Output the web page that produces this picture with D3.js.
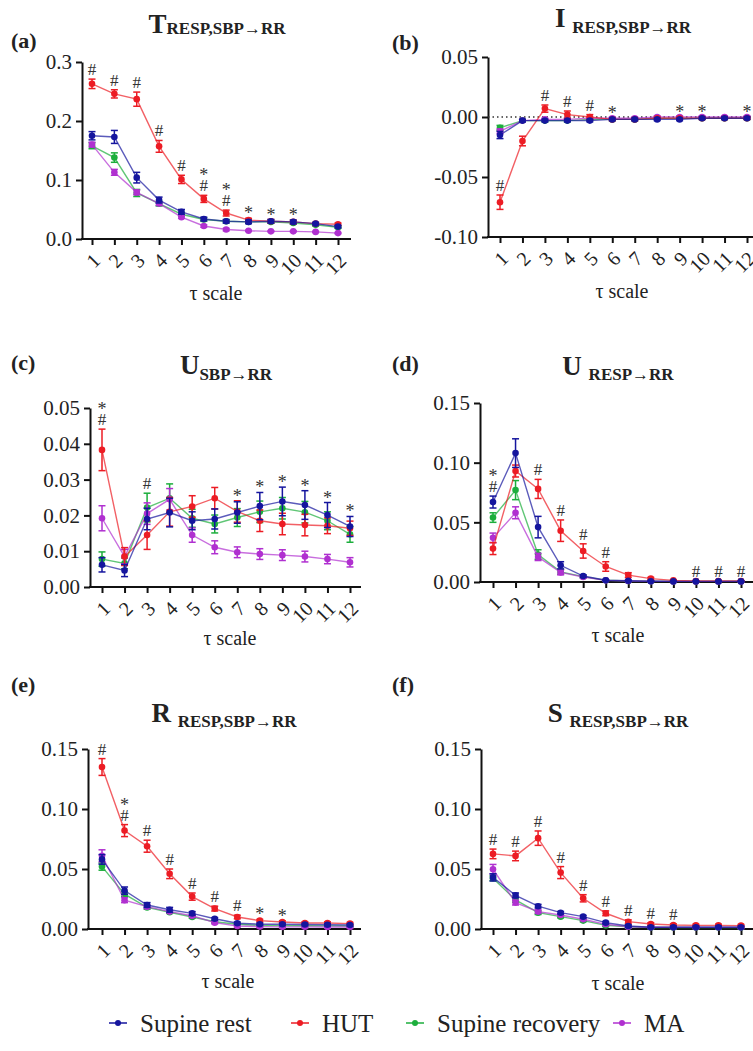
<!DOCTYPE html>
<html>
<head>
<meta charset="utf-8">
<script src="https://cdn.jsdelivr.net/npm/d3@7"></script>
<style>
  body { margin: 0; background: #fff; }
</style>
</head>
<body>
<div class="canvas"></div>
<script>
// tau scales and groups
const taus = [1, 2, 3, 4, 5, 6, 7, 8, 9, 10, 11, 12];
const groups = ["Supine rest", "HUT", "Supine recovery", "MA"];
const colors = ["#15159e", "#ec1c24", "#1cae3c", "#b030d0"];

// (a) T resp,sbp->rr   order: rest, HUT, recovery, MA
const T_mean = [
  [0.175, 0.173, 0.104, 0.066, 0.046, 0.034, 0.030, 0.029, 0.030, 0.029, 0.026, 0.021],
  [0.263, 0.246, 0.237, 0.157, 0.101, 0.068, 0.044, 0.032, 0.030, 0.029, 0.026, 0.025],
  [0.158, 0.138, 0.078, 0.060, 0.042, 0.033, 0.030, 0.029, 0.029, 0.027, 0.024, 0.020],
  [0.160, 0.113, 0.079, 0.060, 0.037, 0.022, 0.016, 0.014, 0.013, 0.013, 0.012, 0.010]
];
const T_sem = [
  [0.007, 0.011, 0.009, 0.005, 0.004, 0.003, 0.003, 0.003, 0.003, 0.003, 0.002, 0.002],
  [0.008, 0.007, 0.012, 0.010, 0.007, 0.006, 0.005, 0.003, 0.003, 0.003, 0.002, 0.002],
  [0.005, 0.008, 0.006, 0.004, 0.003, 0.003, 0.002, 0.002, 0.002, 0.002, 0.002, 0.002],
  [0.004, 0.005, 0.004, 0.003, 0.002, 0.002, 0.002, 0.001, 0.001, 0.001, 0.001, 0.001]
];
const T_marks = ["#", "#", "#", "#", "#", "*#", "*#", "*", "*", "*", "", ""];
const T_ticks = [0, 0.1, 0.2, 0.3];

// (b) I resp,sbp->rr
const I_mean = [
  [-0.015, -0.003, -0.003, -0.003, -0.003, -0.002, -0.002, -0.002, -0.002, -0.001, -0.001, -0.001],
  [-0.071, -0.020, 0.007, 0.002, 0.000, -0.002, -0.002, -0.001, -0.001, -0.001, -0.001, -0.001],
  [-0.009, -0.003, -0.003, -0.003, -0.002, -0.002, -0.002, -0.001, -0.001, -0.001, -0.001, -0.001],
  [-0.012, -0.003, -0.002, -0.002, -0.001, -0.001, -0.001, 0.000, 0.000, 0.000, 0.000, 0.000]
];
const I_sem = [
  [0.003, 0.001, 0.001, 0.001, 0.001, 0.001, 0.001, 0.001, 0.001, 0.001, 0.001, 0.001],
  [0.006, 0.004, 0.003, 0.003, 0.002, 0.001, 0.001, 0.001, 0.001, 0.001, 0.001, 0.001],
  [0.002, 0.001, 0.001, 0.001, 0.001, 0.001, 0.001, 0.001, 0.001, 0.001, 0.001, 0.001],
  [0.002, 0.001, 0.001, 0.001, 0.001, 0.001, 0.001, 0.001, 0.001, 0.001, 0.001, 0.001]
];
const I_marks = ["#", "", "#", "#", "#", "*", "", "", "*", "*", "", "*"];
const I_ticks = [-0.10, -0.05, 0, 0.05];

// (c) U sbp->rr
const Us_mean = [
  [0.0062, 0.0046, 0.0190, 0.0208, 0.0185, 0.0190, 0.0208, 0.0226, 0.0239, 0.0229, 0.0201, 0.0169],
  [0.0383, 0.0085, 0.0145, 0.0210, 0.0225, 0.0248, 0.0211, 0.0185, 0.0176, 0.0173, 0.0171, 0.0164],
  [0.0078, 0.0066, 0.0222, 0.0248, 0.0192, 0.0176, 0.0194, 0.0210, 0.0220, 0.0209, 0.0185, 0.0147],
  [0.0192, 0.0085, 0.0205, 0.0245, 0.0145, 0.0111, 0.0097, 0.0092, 0.0089, 0.0085, 0.0078, 0.0069]
];
const Us_sem = [
  [0.0020, 0.0017, 0.0030, 0.0040, 0.0025, 0.0028, 0.0030, 0.0038, 0.0040, 0.0040, 0.0035, 0.0028],
  [0.0058, 0.0025, 0.0040, 0.0040, 0.0030, 0.0030, 0.0030, 0.0030, 0.0030, 0.0030, 0.0022, 0.0020],
  [0.0020, 0.0015, 0.0040, 0.0040, 0.0025, 0.0025, 0.0025, 0.0030, 0.0030, 0.0030, 0.0025, 0.0022],
  [0.0035, 0.0020, 0.0030, 0.0030, 0.0020, 0.0018, 0.0015, 0.0015, 0.0015, 0.0015, 0.0013, 0.0013]
];
const Us_marks = ["*#", "", "#", "", "", "", "*", "*", "*", "*", "*", "*"];
const Us_ticks = [0, 0.01, 0.02, 0.03, 0.04, 0.05];

// (d) U resp->rr
const Ur_mean = [
  [0.067, 0.108, 0.046, 0.014, 0.005, 0.0015, 0.0010, 0.0006, 0.0005, 0.0005, 0.0005, 0.0005],
  [0.028, 0.093, 0.078, 0.043, 0.026, 0.013, 0.0058, 0.0028, 0.0014, 0.0008, 0.0008, 0.0008],
  [0.054, 0.077, 0.023, 0.0085, 0.0045, 0.0015, 0.0008, 0.0006, 0.0005, 0.0005, 0.0005, 0.0005],
  [0.037, 0.058, 0.021, 0.008, 0.0042, 0.0014, 0.0008, 0.0006, 0.0005, 0.0005, 0.0005, 0.0005]
];
const Ur_sem = [
  [0.005, 0.012, 0.009, 0.003, 0.001, 0.0005, 0.0005, 0.0003, 0.0003, 0.0003, 0.0003, 0.0003],
  [0.005, 0.005, 0.008, 0.009, 0.006, 0.004, 0.002, 0.001, 0.0005, 0.0003, 0.0003, 0.0003],
  [0.004, 0.008, 0.004, 0.002, 0.001, 0.0005, 0.0003, 0.0003, 0.0003, 0.0003, 0.0003, 0.0003],
  [0.004, 0.005, 0.003, 0.002, 0.001, 0.0005, 0.0003, 0.0003, 0.0003, 0.0003, 0.0003, 0.0003]
];
const Ur_marks = ["*#", "", "#", "#", "#", "#", "", "", "", "#", "#", "#"];
const Ur_ticks = [0, 0.05, 0.10, 0.15];

// (e) R resp,sbp->rr
const R_mean = [
  [0.058, 0.032, 0.020, 0.016, 0.013, 0.0085, 0.0048, 0.0040, 0.0039, 0.0038, 0.0036, 0.0033],
  [0.135, 0.082, 0.069, 0.046, 0.027, 0.017, 0.010, 0.007, 0.0058, 0.0050, 0.0050, 0.0045],
  [0.052, 0.029, 0.018, 0.014, 0.010, 0.006, 0.0039, 0.0030, 0.0028, 0.0027, 0.0026, 0.0025],
  [0.061, 0.024, 0.0186, 0.0145, 0.011, 0.0053, 0.0025, 0.0020, 0.0018, 0.0018, 0.0017, 0.0017]
];
const R_sem = [
  [0.004, 0.003, 0.002, 0.002, 0.0015, 0.001, 0.001, 0.001, 0.001, 0.001, 0.001, 0.001],
  [0.007, 0.005, 0.005, 0.004, 0.003, 0.002, 0.0015, 0.001, 0.001, 0.001, 0.001, 0.001],
  [0.003, 0.002, 0.0015, 0.001, 0.001, 0.001, 0.001, 0.001, 0.001, 0.001, 0.001, 0.001],
  [0.005, 0.002, 0.0015, 0.001, 0.001, 0.001, 0.001, 0.001, 0.001, 0.001, 0.001, 0.001]
];
const R_marks = ["#", "*#", "#", "#", "#", "#", "#", "*", "*", "", "", ""];
const R_ticks = [0, 0.05, 0.10, 0.15];

// (f) S resp,sbp->rr
const S_mean = [
  [0.043, 0.028, 0.019, 0.0136, 0.0103, 0.0053, 0.0025, 0.0015, 0.0015, 0.0015, 0.0015, 0.0015],
  [0.0626, 0.0609, 0.0757, 0.047, 0.0256, 0.0131, 0.0061, 0.0042, 0.0033, 0.0030, 0.0030, 0.0028],
  [0.0423, 0.0242, 0.0136, 0.0103, 0.0070, 0.0030, 0.0019, 0.0012, 0.0012, 0.0012, 0.0012, 0.0012],
  [0.0498, 0.0220, 0.0145, 0.0117, 0.0081, 0.0039, 0.0019, 0.0014, 0.0014, 0.0014, 0.0014, 0.0014]
];
const S_sem = [
  [0.003, 0.002, 0.0015, 0.001, 0.001, 0.001, 0.001, 0.001, 0.001, 0.001, 0.001, 0.001],
  [0.004, 0.004, 0.006, 0.005, 0.003, 0.002, 0.0015, 0.001, 0.001, 0.001, 0.001, 0.001],
  [0.002, 0.002, 0.0015, 0.001, 0.001, 0.001, 0.001, 0.001, 0.001, 0.001, 0.001, 0.001],
  [0.004, 0.002, 0.0015, 0.001, 0.001, 0.001, 0.001, 0.001, 0.001, 0.001, 0.001, 0.001]
];
const S_marks = ["#", "#", "#", "#", "#", "#", "#", "#", "#", "", "", ""];
const S_ticks = [0, 0.05, 0.10, 0.15];

// layout of each panel (pixels)
const panels = [
  { tag: "(a)", tagX: 11, tagY: 48, main: "T", sub: "RESP,SBP\u2192RR", subDy: 1, titleX: 217, titleY: 33,
    mean: T_mean, sem: T_sem, marks: T_marks, ticks: T_ticks, fmt: ".1f",
    ax: 82, x1: 92, x12: 338, xEnd: 351, yTop: 62, yBot: 239, labX: 216, labY: 300 },
  { tag: "(b)", tagX: 392, tagY: 50, main: "I ", sub: "RESP,SBP\u2192RR", subDy: 6, titleX: 623, titleY: 27,
    mean: I_mean, sem: I_sem, marks: I_marks, ticks: I_ticks, fmt: ".2f", anchor: 1, zeroLine: true,
    ax: 488, x1: 500, x12: 747, xEnd: 760, yTop: 57, yBot: 237, labX: 622, labY: 298 },
  { tag: "(c)", tagX: 11, tagY: 370, main: "U", sub: "SBP\u2192RR", subDy: 6, titleX: 226, titleY: 374,
    mean: Us_mean, sem: Us_sem, marks: Us_marks, ticks: Us_ticks, fmt: ".2f",
    ax: 90, x1: 102, x12: 350, xEnd: 361, yTop: 408, yBot: 587, labX: 230, labY: 645 },
  { tag: "(d)", tagX: 392, tagY: 371, main: "U ", sub: "RESP\u2192RR", subDy: 5, titleX: 618, titleY: 375,
    mean: Ur_mean, sem: Ur_sem, marks: Ur_marks, ticks: Ur_ticks, fmt: ".2f",
    ax: 480, x1: 493, x12: 741, xEnd: 760, yTop: 403, yBot: 582, labX: 618, labY: 642 },
  { tag: "(e)", tagX: 11, tagY: 692, main: "R ", sub: "RESP,SBP\u2192RR", subDy: 5, titleX: 224, titleY: 722,
    mean: R_mean, sem: R_sem, marks: R_marks, ticks: R_ticks, fmt: ".2f",
    ax: 88, x1: 102, x12: 350, xEnd: 361, yTop: 749, yBot: 929, labX: 228, labY: 988 },
  { tag: "(f)", tagX: 392, tagY: 692, main: "S ", sub: "RESP,SBP\u2192RR", subDy: 5, titleX: 618, titleY: 722,
    mean: S_mean, sem: S_sem, marks: S_marks, ticks: S_ticks, fmt: ".2f",
    ax: 481, x1: 493, x12: 741, xEnd: 760, yTop: 749, yBot: 929, labX: 618, labY: 990 }
];

const serif = "'Liberation Serif', 'DejaVu Serif', serif";
const drawOrder = [2, 3, 1, 0];

const svg = d3.select(".canvas").append("svg")
  .attr("width", 753).attr("height", 1051)
  .style("background-color", "#fff")
  .style("font-family", serif);

const drawPanel = p => {
  const g = svg.append("g");
  const x = d3.scaleLinear().domain([taus[0], taus[taus.length - 1]]).range([p.x1, p.x12]);
  const y = d3.scaleLinear().domain(d3.extent(p.ticks)).range([p.yBot, p.yTop]);
  const fmt = d3.format(p.fmt);

  // panel tag + title
  g.append("text").attr("x", p.tagX).attr("y", p.tagY)
    .attr("font-size", 22).attr("font-weight", "bold").attr("fill", "#222").text(p.tag);
  const title = g.append("text").attr("x", p.titleX).attr("y", p.titleY)
    .attr("text-anchor", "middle").attr("font-weight", "bold").attr("fill", "#222");
  title.append("tspan").attr("font-size", 27).text(p.main);
  title.append("tspan").attr("font-size", 17).attr("dy", p.subDy).text(p.sub);

  // y axis
  const yAxis = d3.axisLeft(y).tickValues(p.ticks).tickSize(6).tickSizeOuter(0)
    .tickPadding(4).tickFormat(d => fmt(d).replace("\u2212", "-"));
  const yG = g.append("g").attr("transform", `translate(${p.ax},0)`).call(yAxis);
  yG.select(".domain").attr("stroke", "#111").attr("stroke-width", 2);
  yG.selectAll(".tick line").attr("stroke", "#111").attr("stroke-width", 2);
  yG.selectAll("text").attr("font-family", serif).attr("font-size", 21).attr("fill", "#222");

  // x axis
  const xAxis = d3.axisBottom(x).tickValues(taus).tickSize(6).tickSizeOuter(0);
  const xG = g.append("g").attr("transform", `translate(0,${p.yBot})`).call(xAxis);
  xG.select(".domain").remove();
  xG.append("line").attr("x1", p.ax - 1).attr("x2", p.xEnd).attr("y1", 0).attr("y2", 0)
    .attr("stroke", "#111").attr("stroke-width", 2);
  xG.selectAll(".tick line").attr("stroke", "#111").attr("stroke-width", 2);
  xG.selectAll("text")
    .attr("font-family", serif).attr("font-size", 20).attr("fill", "#222")
    .attr("x", 0).attr("y", 0).attr("dy", "0.35em")
    .attr("text-anchor", "end")
    .attr("transform", "translate(4,18) rotate(-45)");

  g.append("text").attr("x", p.labX).attr("y", p.labY).attr("text-anchor", "middle")
    .attr("font-size", 20).attr("fill", "#222").text("\u03c4 scale");

  if (p.zeroLine) {
    g.append("line").attr("x1", p.ax).attr("x2", p.xEnd).attr("y1", y(0)).attr("y2", y(0))
      .attr("stroke", "#333").attr("stroke-width", 1.3).attr("stroke-dasharray", "1.5,3");
  }

  // series
  const line = d3.line().x((d, i) => x(taus[i])).y(d => y(d));
  drawOrder.forEach(s => {
    const c = colors[s];
    const sg = g.append("g");
    sg.append("path").datum(p.mean[s]).attr("d", line)
      .attr("fill", "none").attr("stroke", c).attr("stroke-opacity", 0.7).attr("stroke-width", 1.4);
    const pts = sg.selectAll("g.pt").data(p.mean[s]).enter().append("g").attr("class", "pt");
    pts.append("line")
      .attr("x1", (d, i) => x(taus[i])).attr("x2", (d, i) => x(taus[i]))
      .attr("y1", (d, i) => y(d - p.sem[s][i])).attr("y2", (d, i) => y(d + p.sem[s][i]))
      .attr("stroke", c).attr("stroke-width", 1.5);
    [-1, 1].forEach(k => {
      pts.append("line")
        .attr("x1", (d, i) => x(taus[i]) - 3.5).attr("x2", (d, i) => x(taus[i]) + 3.5)
        .attr("y1", (d, i) => y(d + k * p.sem[s][i])).attr("y2", (d, i) => y(d + k * p.sem[s][i]))
        .attr("stroke", c).attr("stroke-width", 1.5);
    });
    pts.append("circle").attr("cx", (d, i) => x(taus[i])).attr("cy", d => y(d))
      .attr("r", 3.3).attr("fill", c);
  });

  // significance marks, stacked bottom-up above the error bars
  p.marks.forEach((m, i) => {
    if (!m) return;
    const tops = p.mean.map((s, k) => s[i] + p.sem[k][i]);
    const top = p.anchor != null ? tops[p.anchor] : d3.max(tops);
    let cur = y(top) - 4;
    m.split("").reverse().forEach(ch => {
      if (ch === "#") {
        g.append("text").attr("x", x(taus[i])).attr("y", cur).attr("text-anchor", "middle")
          .attr("font-size", 17).attr("fill", "#333").text("#");
        cur -= 15;
      } else {
        g.append("text").attr("x", x(taus[i])).attr("y", cur + 5).attr("text-anchor", "middle")
          .attr("font-size", 18).attr("fill", "#333").text("*");
        cur -= 10;
      }
    });
  });
};

panels.forEach(drawPanel);

// legend
const legX = [118, 300, 415, 622];
const leg = svg.append("g").attr("transform", "translate(0,1023)");
groups.forEach((name, i) => {
  const it = leg.append("g").attr("transform", `translate(${legX[i]},0)`);
  it.append("line").attr("x1", -9).attr("x2", 9).attr("stroke", colors[i]).attr("stroke-width", 1.5);
  it.append("circle").attr("r", 3).attr("fill", colors[i]);
  it.append("text").attr("x", 22).attr("dy", "0.35em")
    .attr("font-size", 25).attr("fill", "#222").text(name);
});
</script>
</body>
</html>
